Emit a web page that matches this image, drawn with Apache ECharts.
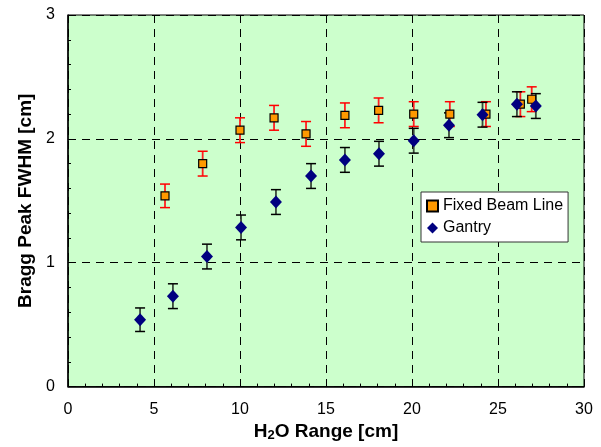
<!DOCTYPE html>
<html>
<head>
<meta charset="utf-8">
<script src="https://cdn.jsdelivr.net/npm/echarts@6/dist/echarts.min.js"></script>
<style>
  html, body { margin: 0; padding: 0; background: #fff; }
  #chart { width: 601px; height: 447px; }
</style>
</head>
<body>
<div id="chart"></div>
<script>
// data
var fixedX = [5.64, 7.83, 10.0, 11.98, 13.84, 16.1, 18.06, 20.1, 22.2, 24.3, 26.3, 26.96];
var fixedY = [1.54, 1.80, 2.07, 2.17, 2.04, 2.19, 2.23, 2.20, 2.20, 2.20, 2.28, 2.32];
var fixedErr = [0.095, 0.1, 0.1, 0.1, 0.1, 0.1, 0.1, 0.1, 0.1, 0.1, 0.1, 0.1];

var gantryX = [4.19, 6.1, 8.08, 10.06, 12.09, 14.13, 16.1, 18.08, 20.1, 22.15, 24.1, 26.1, 27.2];
var gantryY = [0.54, 0.73, 1.05, 1.285, 1.49, 1.70, 1.83, 1.88, 1.985, 2.11, 2.195, 2.28, 2.265];
var gantryErr = [0.095, 0.1, 0.1, 0.1, 0.1, 0.1, 0.1, 0.1, 0.1, 0.1, 0.1, 0.1, 0.1];

var font = 'Liberation Sans, Arial, sans-serif';

function pairs(xs, ys, es) {
  return xs.map(function (x, i) { return es ? [x, ys[i], es[i]] : [x, ys[i]]; });
}

function errorBars(stemColor, capColor) {
  return function (params, api) {
    var x = api.value(0), y = api.value(1), e = api.value(2);
    var top = api.coord([x, y + e]);
    var bot = api.coord([x, y - e]);
    var half = 5;
    return {
      type: 'group',
      children: [
        { type: 'line', shape: { x1: top[0], y1: top[1], x2: bot[0], y2: bot[1] },
          style: { stroke: stemColor, lineWidth: 1.8 } },
        { type: 'line', shape: { x1: top[0] - half, y1: top[1], x2: top[0] + half, y2: top[1] },
          style: { stroke: capColor, lineWidth: 1.5 } },
        { type: 'line', shape: { x1: bot[0] - half, y1: bot[1], x2: bot[0] + half, y2: bot[1] },
          style: { stroke: capColor, lineWidth: 1.5 } }
      ]
    };
  };
}

var chart = echarts.init(document.getElementById('chart'));
var option = {
  animation: false,
  backgroundColor: '#fff',
  textStyle: { fontFamily: font },
  grid: {
    left: 68, right: 17, top: 15, bottom: 56,
    show: true, backgroundColor: '#ccffcc', borderColor: '#000', borderWidth: 1
  },
  legend: {
    orient: 'vertical',
    left: 421, top: 192,
    backgroundColor: '#fff',
    borderColor: '#333', borderWidth: 1,
    padding: [6, 5, 6, 5],
    itemGap: 6,
    itemWidth: 11, itemHeight: 11,
    textStyle: { fontFamily: font, fontSize: 16, color: '#000' },
    data: [
      { name: 'Fixed Beam Line', icon: 'rect' },
      { name: 'Gantry', icon: 'diamond' }
    ]
  },
  xAxis: {
    type: 'value', min: 0, max: 30, interval: 5,
    name: '{b|H}{s|2}{b|O Range [cm]}',
    nameLocation: 'middle', nameGap: 33,
    nameTextStyle: {
      rich: {
        b: { fontFamily: font, fontSize: 19, fontWeight: 'bold', color: '#000' },
        s: { fontFamily: font, fontSize: 13, fontWeight: 'bold', color: '#000', verticalAlign: 'bottom', padding: [7, 0, 0, 0] }
      }
    },
    axisLine: { lineStyle: { color: '#000', width: 1.5 } },
    axisTick: { inside: true, length: 5, lineStyle: { color: '#000' } },
    minorTick: { show: true, splitNumber: 5, length: 3, lineStyle: { color: '#000' } },
    axisLabel: { fontFamily: font, fontSize: 16, color: '#000', margin: 15 },
    splitLine: { show: true, lineStyle: { color: '#000', type: [8, 6], width: 1 } }
  },
  yAxis: {
    type: 'value', min: 0, max: 3, interval: 1,
    name: 'Bragg Peak FWHM [cm]',
    nameLocation: 'middle', nameGap: 22,
    nameTextStyle: { fontFamily: font, fontSize: 19, fontWeight: 'bold', color: '#000' },
    axisLine: { lineStyle: { color: '#000', width: 1.5 } },
    axisTick: { inside: true, length: 5, lineStyle: { color: '#000' } },
    minorTick: { show: true, splitNumber: 5, length: 3, lineStyle: { color: '#000' } },
    axisLabel: { fontFamily: font, fontSize: 16, color: '#000', margin: 13 },
    splitLine: { show: true, lineStyle: { color: '#000', type: [8, 6], width: 1 } }
  },
  series: [
    {
      name: 'Fixed err', type: 'custom', z: 2,
      renderItem: errorBars('#ff2020', '#ff0000'),
      encode: { x: 0, y: 1 },
      data: pairs(fixedX, fixedY, fixedErr)
    },
    {
      name: 'Gantry err', type: 'custom', z: 2,
      renderItem: errorBars('#3a4a3a', '#000'),
      encode: { x: 0, y: 1 },
      data: pairs(gantryX, gantryY, gantryErr)
    },
    {
      name: 'Fixed Beam Line', type: 'scatter', z: 3,
      symbol: 'rect', symbolSize: 8,
      itemStyle: { color: '#ff9900', borderColor: '#000', borderWidth: 1.2, opacity: 1 },
      data: pairs(fixedX, fixedY)
    },
    {
      name: 'Gantry', type: 'scatter', z: 4,
      symbol: 'diamond', symbolSize: [12, 13],
      itemStyle: { color: '#000080', opacity: 1 },
      data: pairs(gantryX, gantryY)
    }
  ]
};
option && chart.setOption(option);
</script>
</body>
</html>
